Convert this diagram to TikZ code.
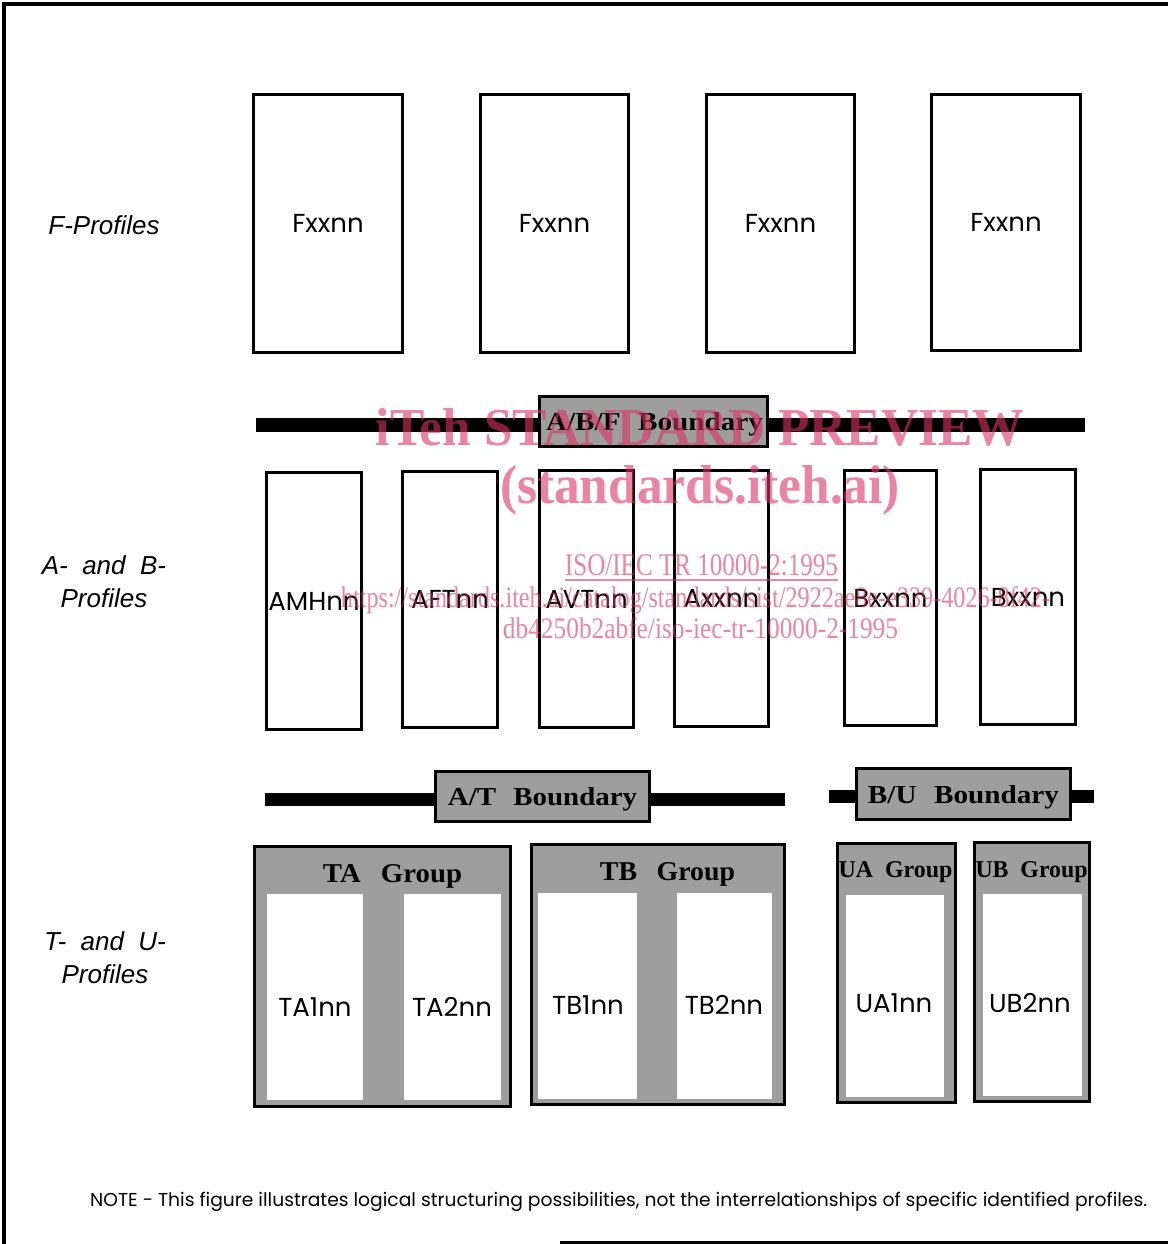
\documentclass[tikz,border=0pt]{standalone}
\usepackage{fontspec}
\usepackage{graphicx}
\setmainfont{Liberation Serif}
\newfontfamily\geo{Poppins}
\newfontfamily\arialf{Liberation Sans}
\newfontfamily\tmsf{Liberation Serif}
\definecolor{wm}{RGB}{220,50,100}
\newcommand{\fitbox}[3]{\resizebox{#1pt}{#2pt}{#3}}
\tikzset{
  framestyle/.style={line width=4pt},
  profbox/.style={draw, line width=3pt, fill=white, inner sep=0pt, font=\geo\fontsize{26}{30}\selectfont},
  plab/.style={font=\geo\fontsize{26}{30}\selectfont, inner sep=0pt, anchor=base},
  rowlab/.style={font=\arialf\itshape\fontsize{26}{33}\selectfont, align=center, inner sep=0pt},
  barline/.style={line width=14pt},
  bndbox/.style={draw, line width=3pt, fill=black!38, inner sep=0pt},
  grpbox/.style={draw, line width=3pt, fill=black!38, inner sep=0pt},
  whitebox/.style={fill=white, inner sep=0pt},
  titlelab/.style={inner sep=0pt, anchor=base, font=\tmsf\bfseries},
  wmark/.style={text=wm, text opacity=0.6, inner sep=0pt, anchor=base},
}
\begin{document}
\begin{tikzpicture}[x=1pt,y=-1pt]
\useasboundingbox (0,0) rectangle (1168,1244);
\fill[white] (0,0) rectangle (1168,1244);
% frame
\coordinate (fbl) at (4,1244);
\coordinate (ftl) at (4,4);
\coordinate (ftr) at (1168,4);
\coordinate (fb1) at (560,1242);
\coordinate (fb2) at (1168,1242);
\draw[framestyle] (fbl) -- (ftl) -- (ftr);
\draw[line width=3pt] (fb1) -- (fb2);

% row labels
\node[rowlab] (lf) at (104,225) {F-Profiles};
\node[rowlab] (lab) at (104,582) {A-\ \ and\ \ B-\\Profiles};
\node[rowlab] (ltu) at (105,958) {T-\ \ and\ \ U-\\Profiles};

% F profiles
\node[profbox, minimum width=149pt, minimum height=258pt] (f1) at (328,223.5) {Fxxnn};
\node[profbox, minimum width=148pt, minimum height=258pt] (f2) at (554.5,223.5) {Fxxnn};
\node[profbox, minimum width=148pt, minimum height=258pt] (f3) at (780.5,223.5) {Fxxnn};
\node[profbox, minimum width=149pt, minimum height=256pt] (f4) at (1006,222.5) {Fxxnn};

% A/B/F boundary
\coordinate (abfL) at (256,425);
\coordinate (abfR) at (1085,425);
\draw[barline] (abfL) -- (abfR);
\node[bndbox, minimum width=228pt, minimum height=50pt] (abf) at (653.5,421.5) {};
\node[titlelab] (abft) at (654.5,430) {\fitbox{217}{18}{A/B/F\hspace{0.6em}Boundary}};

% A and B profiles
\node[profbox, minimum width=95pt, minimum height=257pt] (a1) at (314,601) {AMHnn};
\node[profbox, minimum width=95pt, minimum height=256pt] (a2) at (450,599.5) {AFTnn};
\node[profbox, minimum width=94pt, minimum height=257pt] (a3) at (586.5,599) {AVTnn};
\node[profbox, minimum width=94pt, minimum height=256pt] (a4) at (721.5,598.5) {Axxnn};
\node[profbox, minimum width=92pt, minimum height=255pt] (b1) at (890.5,598) {Bxxnn};
\node[profbox, minimum width=95pt, minimum height=255pt] (b2) at (1028,597) {Bxxnn};

% A/T boundary
\coordinate (atL) at (265,799.5);
\coordinate (atR) at (785,799.5);
\draw[barline, line width=13pt] (atL) -- (atR);
\node[bndbox, minimum width=214pt, minimum height=50pt] (at) at (542.5,796.5) {};
\node[titlelab] (att) at (542.5,805) {\fitbox{189}{18}{A/T\hspace{0.6em}Boundary}};

% B/U boundary
\coordinate (buL) at (829,796.5);
\coordinate (buR) at (1094,796.5);
\draw[barline, line width=13pt] (buL) -- (buR);
\node[bndbox, minimum width=214pt, minimum height=51pt] (bu) at (963.5,794) {};
\node[titlelab] (but) at (963.5,803) {\fitbox{191}{18}{B/U\hspace{0.6em}Boundary}};

% TA group
\node[grpbox, minimum width=256pt, minimum height=260pt] (ta) at (382.5,976.5) {};
\node[whitebox, minimum width=96pt, minimum height=206pt] (ta1w) at (315,997) {};
\node[whitebox, minimum width=97pt, minimum height=206pt] (ta2w) at (452.5,997) {};
\node[titlelab] (tat) at (392.5,882) {\fitbox{139}{18}{TA\hspace{0.7em}Group}};
\node[plab] (ta1) at (315,1016) {TA1nn};
\node[plab] (ta2) at (452,1016) {TA2nn};

% TB group
\node[grpbox, minimum width=253pt, minimum height=260pt] (tb) at (658,974.5) {};
\node[whitebox, minimum width=99pt, minimum height=206pt] (tb1w) at (587.5,996) {};
\node[whitebox, minimum width=95pt, minimum height=206pt] (tb2w) at (724.5,996) {};
\node[titlelab] (tbt) at (667.5,880) {\fitbox{135}{18}{TB\hspace{0.7em}Group}};
\node[plab] (tb1) at (588,1014) {TB1nn};
\node[plab] (tb2) at (724,1014) {TB2nn};

% UA group
\node[grpbox, minimum width=118pt, minimum height=259pt] (ua) at (896.5,973) {};
\node[whitebox, minimum width=98pt, minimum height=202pt] (ua1w) at (895,996) {};
\node[titlelab] (uat) at (895.5,877) {\fitbox{114}{16}{UA\hspace{0.5em}Group}};
\node[plab] (ua1) at (894,1012) {UA1nn};

% UB group
\node[grpbox, minimum width=115pt, minimum height=259pt] (ub) at (1032,972) {};
\node[whitebox, minimum width=99pt, minimum height=202pt] (ub2w) at (1032.5,995) {};
\node[titlelab] (ubt) at (1031.5,877) {\fitbox{112}{16}{UB\hspace{0.5em}Group}};
\node[plab] (ub2) at (1030,1012) {UB2nn};

% note
\node[anchor=base west, inner sep=0pt] (note) at (90,1206)
  {\resizebox{1057pt}{!}{\geo\fontsize{18}{20}\selectfont NOTE - This figure illustrates logical structuring possibilities, not the interrelationships of specific identified profiles.}};

% watermark
\node[wmark] (wm1) at (700,445) {\fitbox{648}{37}{\tmsf\bfseries iTeh STANDARD PREVIEW}};
\node[wmark] (wm2) at (700,503) {\fitbox{400}{38}{\tmsf\bfseries (standards.iteh.ai)}};
\node[wmark] (wm3) at (701.5,575) {\fitbox{273}{21}{\tmsf\underline{ISO/IEC TR 10000-2:1995}}};
\node[wmark] (wm4) at (695.5,607) {\fitbox{709}{21}{\tmsf https://standards.iteh.ai/catalog/standards/sist/2922ae8e-e339-4026-8f42-}};
\node[wmark] (wm5) at (700.5,638) {\fitbox{395}{21}{\tmsf db4250b2abfe/iso-iec-tr-10000-2-1995}};
\end{tikzpicture}
\end{document}
